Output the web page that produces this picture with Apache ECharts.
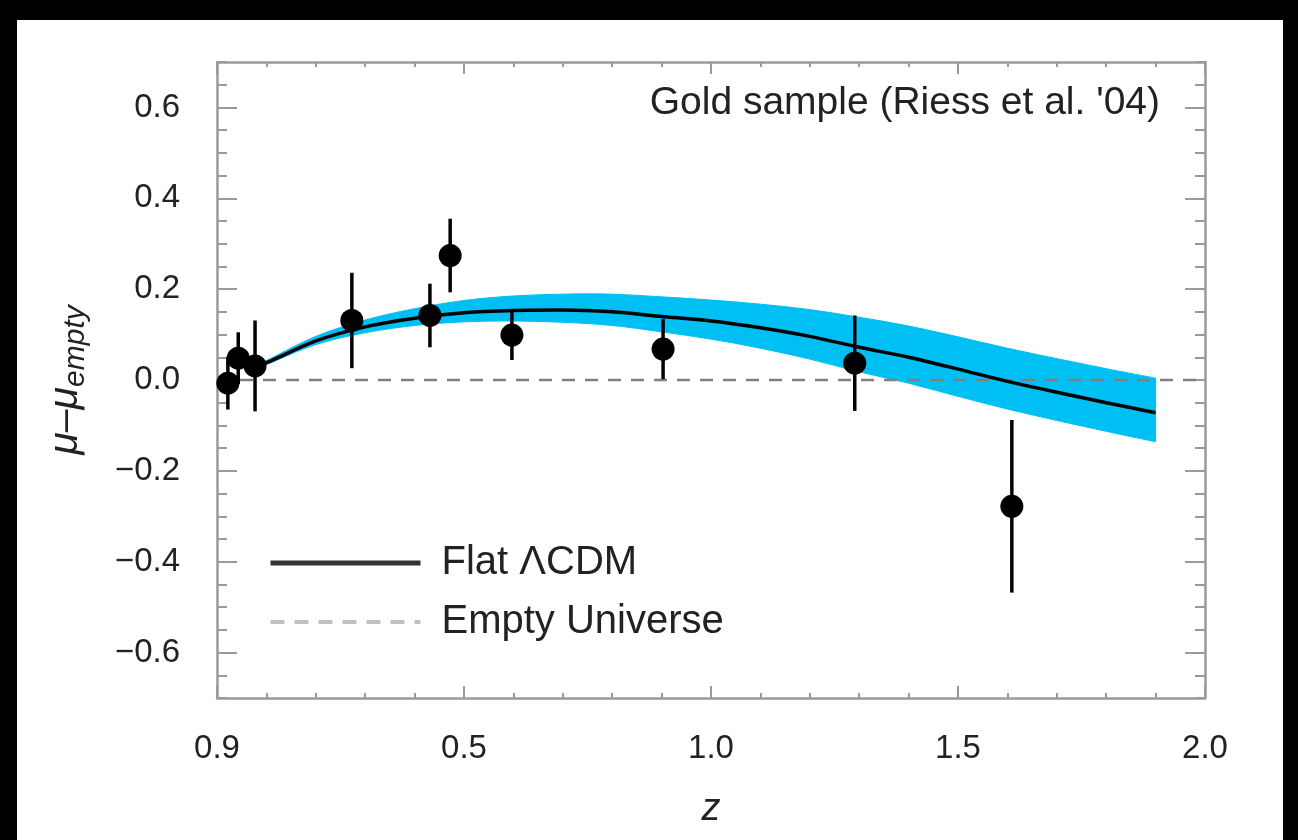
<!DOCTYPE html>
<html>
<head>
<meta charset="utf-8">
<script src="https://cdn.jsdelivr.net/npm/echarts@6/dist/echarts.min.js"></script>
<style>
html,body{margin:0;padding:0;background:#000;width:1298px;height:840px;overflow:hidden;}
#chart{position:absolute;left:17px;top:20px;width:1266px;height:820px;background:#fff;}
</style>
</head>
<body>
<div id="chart"></div>
<script>
// ---- data ----
const xTickValues = [0, 0.5, 1.0, 1.5, 2.0];
const xTickLabels = ['0.9', '0.5', '1.0', '1.5', '2.0'];
const yTickValues = [-0.6, -0.4, -0.2, 0.0, 0.2, 0.4, 0.6];
const yTickLabels = ['\u22120.6', '\u22120.4', '\u22120.2', '0.0', '0.2', '0.4', '0.6'];

// Gold sample binned points (z, mu - mu_empty, error)
const pointZ   = [0.022, 0.043, 0.077, 0.273, 0.431, 0.472, 0.597, 0.903, 1.291, 1.609];
const pointMu  = [-0.007, 0.048, 0.031, 0.131, 0.142, 0.274, 0.099, 0.068, 0.037, -0.278];
const pointErr = [0.058, 0.057, 0.100, 0.105, 0.070, 0.081, 0.055, 0.066, 0.105, 0.190];

// Flat LambdaCDM curve and its uncertainty band
const curveZ     = [0.07, 0.1, 0.2, 0.3, 0.4, 0.5, 0.6, 0.7, 0.8, 0.9, 1.0, 1.1, 1.2, 1.3, 1.4, 1.5, 1.6, 1.7, 1.8, 1.9];
const curveMu    = [0.027, 0.038, 0.086, 0.117, 0.136, 0.148, 0.153, 0.154, 0.150, 0.140, 0.130, 0.115, 0.096, 0.072, 0.050, 0.024, -0.003, -0.027, -0.050, -0.072];
const bandUpper  = [0.030, 0.043, 0.096, 0.132, 0.157, 0.175, 0.185, 0.189, 0.189, 0.183, 0.176, 0.167, 0.155, 0.138, 0.119, 0.095, 0.070, 0.047, 0.025, 0.004];
const bandLower  = [0.024, 0.034, 0.078, 0.104, 0.120, 0.128, 0.130, 0.127, 0.120, 0.106, 0.090, 0.070, 0.046, 0.018, -0.007, -0.036, -0.064, -0.089, -0.113, -0.136];

// Empty universe reference line
const emptyZ  = [0, 2.0];
const emptyMu = [0, 0];

// ---- build ----
const zip = (a, b) => a.map((v, i) => [v, b[i]]);
const yMinor = [];
for (let k = -14; k <= 14; k++) yMinor.push(Math.round(k * 5) / 100);

const FONT = '"Liberation Sans", Arial, Helvetica, sans-serif';
const FRAME = '#9a9a9a';
const TXT = '#222';

// Catmull-Rom smoothed path segments through pixel points (starting after the first point)
function smoothSegs(pts) {
  let d = '';
  const n = pts.length;
  for (let i = 0; i < n - 1; i++) {
    const p0 = pts[Math.max(i - 1, 0)], p1 = pts[i], p2 = pts[i + 1], p3 = pts[Math.min(i + 2, n - 1)];
    const c1 = [p1[0] + (p2[0] - p0[0]) / 6, p1[1] + (p2[1] - p0[1]) / 6];
    const c2 = [p2[0] - (p3[0] - p1[0]) / 6, p2[1] - (p3[1] - p1[1]) / 6];
    d += ' C' + c1[0] + ' ' + c1[1] + ' ' + c2[0] + ' ' + c2[1] + ' ' + p2[0] + ' ' + p2[1];
  }
  return d;
}

function xAxisDef(pos, major, showLabel, showLine) {
  return {
    type: 'value', position: pos, min: 0, max: 2.0,
    interval: major ? 0.5 : 0.1,
    axisLine: { show: showLine, onZero: false, lineStyle: { color: FRAME, width: 2.5 } },
    axisTick: { show: true, inside: true, length: major ? 12 : 5, lineStyle: { color: FRAME, width: 2 } },
    axisLabel: {
      show: showLabel, margin: 34, color: TXT, fontSize: 33, fontFamily: FONT,
      formatter: v => { const i = xTickValues.findIndex(t => Math.abs(t - v) < 1e-6); return i >= 0 ? xTickLabels[i] : ''; }
    },
    splitLine: { show: false }
  };
}
function yAxisDef(pos, major, showLabel, showLine) {
  return {
    type: 'value', position: pos, min: -0.7, max: 0.7,
    axisLine: { show: showLine, onZero: false, lineStyle: { color: FRAME, width: 2.5 } },
    axisTick: { show: true, inside: true, length: major ? 20 : 10, customValues: major ? yTickValues : yMinor, lineStyle: { color: FRAME, width: 2 } },
    axisLabel: {
      show: showLabel, margin: 37, color: TXT, fontSize: 33, fontFamily: FONT,
      customValues: yTickValues,
      formatter: v => { const i = yTickValues.findIndex(t => Math.abs(t - v) < 1e-6); return i >= 0 ? yTickLabels[i] : ''; }
    },
    splitLine: { show: false }
  };
}

const xAxes = [
  xAxisDef('bottom', true, true, true),
  xAxisDef('bottom', false, false, false),
  xAxisDef('top', true, false, true),
  xAxisDef('top', false, false, false)
];
xAxes[0].name = 'z';
xAxes[0].nameLocation = 'middle';
xAxes[0].nameGap = 92;
xAxes[0].nameTextStyle = { fontSize: 38, fontStyle: 'italic', color: TXT, fontFamily: FONT };

const yAxes = [
  yAxisDef('left', true, true, true),
  yAxisDef('left', false, false, false),
  yAxisDef('right', true, false, true),
  yAxisDef('right', false, false, false)
];
yAxes[0].name = '{m|\u03bc\u2013\u03bc}{s|empty}';
yAxes[0].nameLocation = 'middle';
yAxes[0].nameGap = 126;
yAxes[0].nameTextStyle = {
  color: TXT, fontFamily: FONT, fontStyle: 'italic',
  rich: {
    m: { fontSize: 41, fontStyle: 'italic', color: TXT, fontFamily: FONT, lineHeight: 50, verticalAlign: 'middle' },
    s: { fontSize: 30, fontStyle: 'italic', color: TXT, fontFamily: FONT, lineHeight: 50, verticalAlign: 'bottom' }
  }
};

const option = {
  animation: false,
  backgroundColor: '#fff',
  title: {
    text: "Gold sample (Riess et al. '04)",
    right: 118, top: 59,
    textStyle: { fontSize: 39, fontWeight: 'normal', color: TXT, fontFamily: FONT }
  },
  legend: {
    left: 246, top: 517, orient: 'vertical',
    itemWidth: 150, itemHeight: 14, itemGap: 17,
    textStyle: { fontSize: 40, color: TXT, fontFamily: FONT, padding: [0, 0, 0, 16], lineHeight: 42 },
    data: [
      { name: 'Flat \u039bCDM', lineStyle: { color: '#333', width: 5 }, itemStyle: { opacity: 0 } },
      { name: 'Empty Universe', lineStyle: { color: '#c0c0c0', width: 4, type: [14, 10] }, itemStyle: { opacity: 0 } }
    ]
  },
  grid: { left: 200, top: 42, right: 78, bottom: 142 },
  xAxis: xAxes,
  yAxis: yAxes,
  series: [
    { type: 'custom', name: 'band', z: 1, silent: true,
      data: curveZ.map((v, i) => [v, bandUpper[i], bandLower[i]]),
      encode: { x: 0, y: [1, 2] },
      renderItem: (params, api) => {
        if (params.dataIndexInside !== 0) return null;
        const n = params.dataInsideLength;
        const top = [], bot = [];
        for (let j = 0; j < n; j++) {
          top.push(api.coord([api.value(0, j), api.value(1, j)]));
          bot.push(api.coord([api.value(0, j), api.value(2, j)]));
        }
        const botR = bot.slice().reverse();
        const d = 'M' + top[0][0] + ' ' + top[0][1] + smoothSegs(top) +
                  ' L' + botR[0][0] + ' ' + botR[0][1] + smoothSegs(botR) + ' Z';
        return { type: 'path', shape: { pathData: d },
                 style: { fill: '#00bff3', stroke: '#00bff3', lineWidth: 1 } };
      }
    },
    { type: 'line', name: 'Empty Universe', data: zip(emptyZ, emptyMu), showSymbol: false, symbol: 'none',
      lineStyle: { color: '#808080', width: 2.5, type: [13, 10] }, itemStyle: { color: '#808080' }, z: 2 },
    { type: 'line', name: 'Flat \u039bCDM', data: zip(curveZ, curveMu), showSymbol: false, symbol: 'none', smooth: 0.3,
      lineStyle: { color: '#000', width: 3.5 }, itemStyle: { color: '#000' }, z: 3 },
    { type: 'custom', name: 'errors', z: 4,
      data: pointZ.map((v, i) => [v, pointMu[i], pointErr[i]]),
      encode: { x: 0, y: 1 },
      renderItem: (params, api) => {
        const x = api.value(0), y = api.value(1), e = api.value(2);
        const p1 = api.coord([x, y + e]);
        const p2 = api.coord([x, y - e]);
        return { type: 'line', shape: { x1: p1[0], y1: p1[1], x2: p2[0], y2: p2[1] },
                 style: { stroke: '#000', lineWidth: 3.5 } };
      }
    },
    { type: 'scatter', name: 'points', data: zip(pointZ, pointMu), symbol: 'circle', symbolSize: 23,
      itemStyle: { color: '#000', opacity: 1 }, z: 5 }
  ]
};

const chart = echarts.init(document.getElementById('chart'), null, { renderer: 'canvas' });
chart.setOption(option);
</script>
</body>
</html>
